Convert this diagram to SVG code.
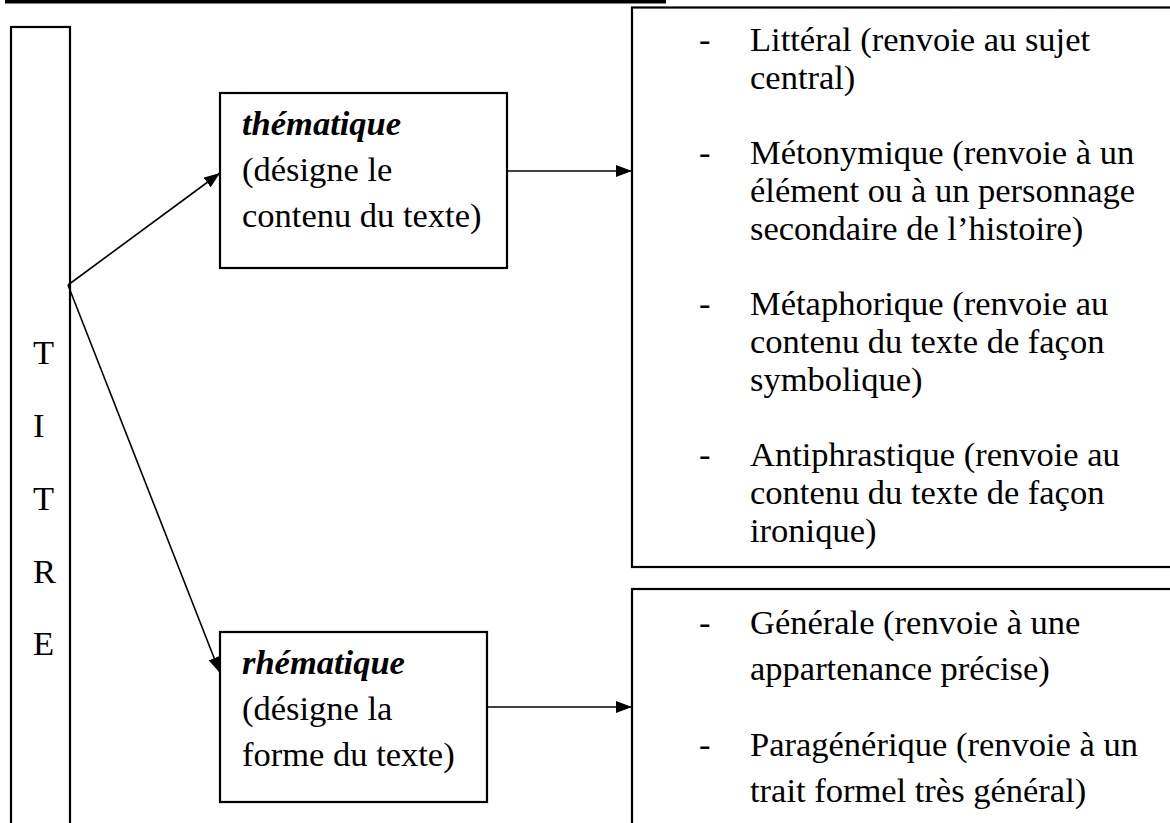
<svg xmlns="http://www.w3.org/2000/svg" width="1170" height="823" viewBox="0 0 1170 823">
<defs>
<style>
.box{fill:#fff;stroke:#000;stroke-width:2.2}
.t{font-family:"Liberation Serif","Times New Roman",serif;font-size:34.5px;fill:#000}
.bi{font-weight:bold;font-style:italic}
.conn{stroke:#000;stroke-width:1.6;fill:none;marker-end:url(#ah)}
</style>
<marker id="ah" markerUnits="userSpaceOnUse" markerWidth="16" markerHeight="12" refX="16" refY="6" orient="auto">
<path d="M0,0 L16,6 L0,12 z" fill="#000"/>
</marker>
</defs>
<rect width="1170" height="823" fill="#fff"/>
<rect x="5" y="0" width="661" height="3.5" fill="#000"/>

<g id="titre">
<rect class="box" x="11" y="27" width="59" height="850"/>
<text class="t" x="33" y="364">T</text>
<text class="t" x="33" y="437">I</text>
<text class="t" x="33" y="510">T</text>
<text class="t" x="33" y="583">R</text>
<text class="t" x="33" y="655">E</text>
</g>

<g id="thematique">
<rect class="box" x="220" y="93" width="287" height="175"/>
<text class="t bi" x="242" y="135">thématique</text>
<text class="t" x="242" y="181">(désigne le</text>
<text class="t" x="242" y="227">contenu du texte)</text>
</g>

<g id="rhematique">
<rect class="box" x="220" y="632" width="267" height="170"/>
<text class="t bi" x="242" y="674">rhématique</text>
<text class="t" x="242" y="720">(désigne la</text>
<text class="t" x="242" y="766">forme du texte)</text>
</g>

<g id="types-thematiques">
<rect class="box" x="632" y="7.5" width="600" height="559.5"/>
<text class="t" x="699" y="51">-</text>
<text class="t" x="750" y="51">Littéral (renvoie au sujet</text>
<text class="t" x="750" y="89">central)</text>
<text class="t" x="699" y="164">-</text>
<text class="t" x="750" y="164">Métonymique (renvoie à un</text>
<text class="t" x="750" y="202">élément ou à un personnage</text>
<text class="t" x="750" y="240">secondaire de l’histoire)</text>
<text class="t" x="699" y="315">-</text>
<text class="t" x="750" y="315">Métaphorique (renvoie au</text>
<text class="t" x="750" y="353">contenu du texte de façon</text>
<text class="t" x="750" y="391">symbolique)</text>
<text class="t" x="699" y="466">-</text>
<text class="t" x="750" y="466">Antiphrastique (renvoie au</text>
<text class="t" x="750" y="504">contenu du texte de façon</text>
<text class="t" x="750" y="542">ironique)</text>
</g>

<g id="types-rhematiques">
<rect class="box" x="632" y="589" width="600" height="300"/>
<text class="t" x="699" y="634">-</text>
<text class="t" x="750" y="634">Générale (renvoie à une</text>
<text class="t" x="750" y="680">appartenance précise)</text>
<text class="t" x="699" y="756">-</text>
<text class="t" x="750" y="756">Paragénérique (renvoie à un</text>
<text class="t" x="750" y="802">trait formel très général)</text>
</g>

<g id="connectors">
<line class="conn" x1="68" y1="285" x2="220" y2="173"/>
<line class="conn" x1="68" y1="285" x2="220" y2="673"/>
<line class="conn" x1="507" y1="171" x2="632" y2="171"/>
<line class="conn" x1="487" y1="707" x2="632" y2="707"/>
</g>
</svg>
